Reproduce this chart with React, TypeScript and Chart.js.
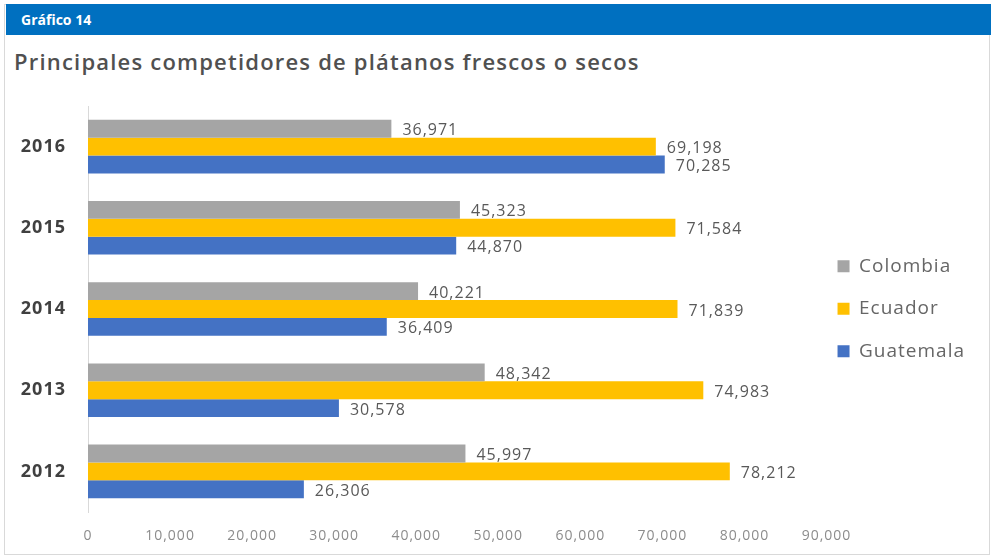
import React, { useEffect, useRef } from "react";
import { Chart, registerables } from "chart.js";

Chart.register(...registerables);

const categories = ["2016", "2015", "2014", "2013", "2012"];
const colombia = [36971, 45323, 40221, 48342, 45997];
const ecuador = [69198, 71584, 71839, 74983, 78212];
const guatemala = [70285, 44870, 36409, 30578, 26306];
const seriesNames = ["Colombia", "Ecuador", "Guatemala"];
const seriesColors = ["#A5A5A5", "#FFC000", "#4472C4"];
const xMax = 90000;
const xStep = 10000;

const FONT = "'Open Sans', 'Noto Sans', sans-serif";

const fmt = (v: number) => v.toLocaleString("en-US");

const spacingPlugin = {
  id: "spacing",
  afterInit(chart: any) {
    chart.ctx.letterSpacing = "1px";
  },
  beforeUpdate(chart: any) {
    chart.ctx.letterSpacing = "1px";
  },
  beforeDraw(chart: any) {
    chart.ctx.letterSpacing = "1px";
  },
};

const valueLabels = {
  id: "valueLabels",
  afterDatasetsDraw(chart: any) {
    const ctx = chart.ctx;
    ctx.save();
    ctx.font = `16px ${FONT}`;
    ctx.fillStyle = "#595959";
    ctx.textAlign = "left";
    ctx.textBaseline = "middle";
    chart.data.datasets.forEach((ds: any, i: number) => {
      const meta = chart.getDatasetMeta(i);
      meta.data.forEach((bar: any, j: number) => {
        ctx.fillText(fmt(ds.data[j]), bar.x + 11, bar.y + 2);
      });
    });
    ctx.restore();
  },
};

export default function App() {
  const ref = useRef<HTMLCanvasElement>(null);
  useEffect(() => {
    if (!ref.current) return;
    const data = [colombia, ecuador, guatemala];
    const chart = new Chart(ref.current, {
      type: "bar",
      data: {
        labels: categories,
        datasets: seriesNames.map((name, i) => ({
          label: name,
          data: data[i],
          backgroundColor: seriesColors[i],
          borderWidth: 0,
          categoryPercentage: 0.66,
          barPercentage: 1.0,
        })),
      },
      options: {
        indexAxis: "y",
        animation: false,
        responsive: false,
        devicePixelRatio: 1,
        layout: { padding: { top: 106, left: 0, right: 19, bottom: 0 } },
        scales: {
          x: {
            min: 0,
            max: xMax,
            border: { display: false },
            grid: { display: false, drawTicks: false },
            ticks: {
              stepSize: xStep,
              padding: 16,
              color: "#8c8c8c",
              font: { family: FONT, size: 14 },
              callback: (v: any) => fmt(Number(v)),
            },
            afterFit: (s: any) => {
              s.height = 46;
            },
          },
          y: {
            border: { display: true, color: "#d9d9d9", width: 1 },
            grid: { display: false, drawTicks: false },
            ticks: {
              padding: 22,
              color: "#404040",
              font: { family: FONT, size: 18, weight: "bold" },
            },
            afterFit: (s: any) => {
              s.width = 88;
            },
          },
        },
        plugins: {
          title: { display: false },
          tooltip: { enabled: false },
          legend: {
            display: true,
            position: "right",
            align: "center",
            fullSize: false,
            reverse: false,
            title: { display: true, text: "", padding: 6, font: { size: 0 } },
            labels: {
              boxWidth: 12,
              boxHeight: 12,
              padding: 11,
              color: "#595959",
              font: { family: FONT, size: 19, lineHeight: 1.66 },
              generateLabels: (c: any) =>
                c.data.datasets.map((ds: any, i: number) => ({
                  text: [ds.label],
                  fillStyle: ds.backgroundColor,
                  strokeStyle: ds.backgroundColor,
                  lineWidth: 0,
                  hidden: false,
                  datasetIndex: i,
                })),
            },
          },
        },
      },
      plugins: [spacingPlugin, valueLabels],
    } as any);
    return () => chart.destroy();
  }, []);

  return (
    <div style={{ position: "fixed", left: 0, top: 0, width: 994, height: 558, background: "#fff", overflow: "hidden" }}>
      <div style={{ position: "absolute", left: 4, top: 4, width: 986, height: 551, border: "1px solid #d9d9d9", boxSizing: "border-box" }} />
      <div style={{ position: "absolute", left: 6, top: 4, width: 985, height: 31, background: "#0070C0" }} />
      <div style={{ position: "absolute", left: 21, top: 10, color: "#fff", fontFamily: FONT, fontWeight: 700, fontSize: 14, lineHeight: "20px", whiteSpace: "nowrap" }}>Gráfico 14</div>
      <div style={{ position: "absolute", left: 14, top: 46, color: "#505050", fontFamily: FONT, fontWeight: 600, fontSize: 22, letterSpacing: "1.2px", lineHeight: "30px", whiteSpace: "nowrap" }}>Principales competidores de plátanos frescos o secos</div>
      <canvas ref={ref} width={994} height={558} style={{ position: "absolute", left: 0, top: 0, width: 994, height: 558 }} />
    </div>
  );
}
